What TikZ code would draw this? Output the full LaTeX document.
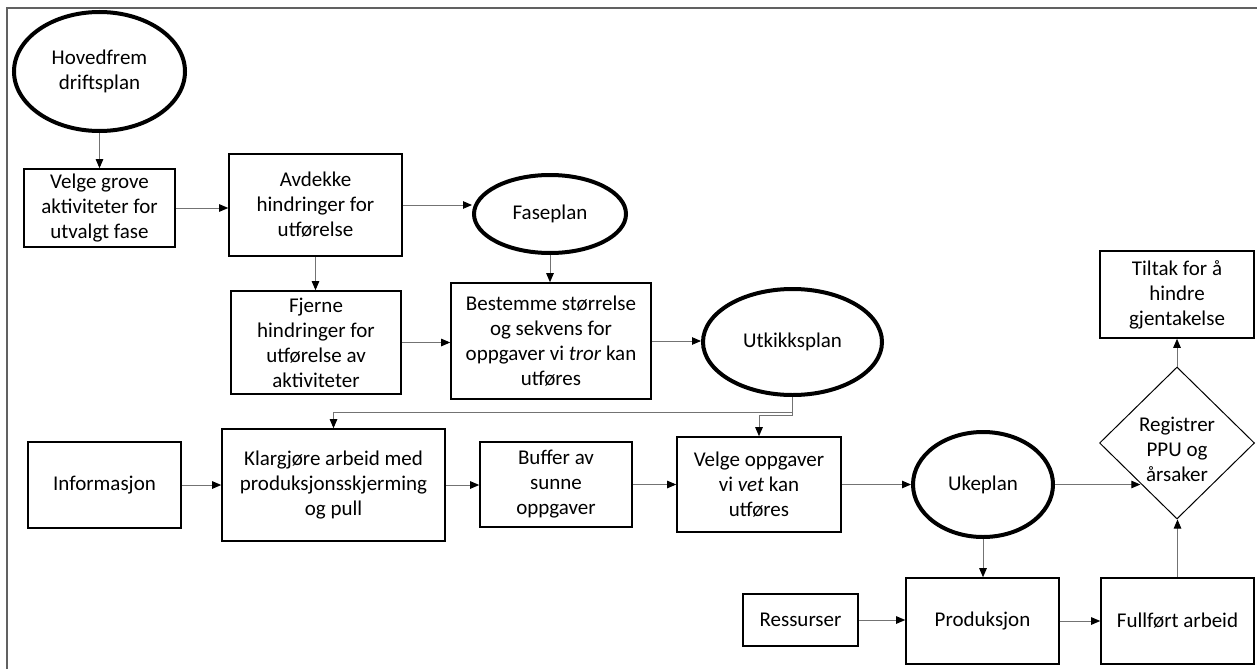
\documentclass[tikz,border=0pt]{standalone}
\usepackage{fontspec}
\setmainfont{Carlito}
\usetikzlibrary{shapes.geometric,arrows.meta,calc}
\begin{document}
\begin{tikzpicture}[x=1pt,y=-1pt,
  every node/.style={font=\fontsize{21}{25}\selectfont, align=center, inner sep=0pt},
  box/.style={draw, line width=1.6pt, rectangle},
  oval/.style={draw, line width=4pt, ellipse},
  dia/.style={draw, line width=1pt, diamond},
  arr/.style={draw=black!55, line width=0.9pt, -{Triangle[length=9pt,width=7.5pt,color=black]}},
  frame/.style={draw=black!62, line width=1.6pt}]
\useasboundingbox (0,0) rectangle (1257,669);

% page frame
\draw[frame] (7,669) -- (7,8) -- (1257,8);

% plan levels (ellipses)
\node[oval, minimum width=171, minimum height=119] (hov) at (99.5,71.5) {Hovedfrem\\driftsplan};
\node[oval, minimum width=152, minimum height=78] (fase) at (550,214) {Faseplan};
\node[oval, minimum width=179, minimum height=106] (utk) at (792.5,342) {Utkikksplan};
\node[oval, minimum width=140, minimum height=105] (uke) at (983,484.5) {Ukeplan};

% process steps
\node[box, minimum width=151, minimum height=78] (vg) at (99.5,208) {Velge grove\\aktiviteter for\\utvalgt fase};
\node[box, minimum width=173, minimum height=102] (avd) at (315.5,205) {Avdekke\\hindringer for\\utførelse};
\node[box, minimum width=170, minimum height=103] (fje) at (316,342.5) {Fjerne\\hindringer for\\utførelse av\\aktiviteter};
\node[box, minimum width=200, minimum height=116] (bes) at (551,341) {Bestemme størrelse\\og sekvens for\\oppgaver vi \textit{tror} kan\\utføres};
\node[box, minimum width=154, minimum height=87] (til) at (1177,294.5) {Tiltak for å\\hindre\\gjentakelse};
\node[box, minimum width=153, minimum height=86] (inf) at (104.5,485) {Informasjon};
\node[box, minimum width=223, minimum height=112] (kla) at (333.5,485) {Klargjøre arbeid med\\produksjonsskjerming\\og pull};
\node[box, minimum width=152, minimum height=85] (buf) at (556,484.5) {Buffer av\\sunne\\oppgaver};
\node[box, minimum width=164, minimum height=95] (vo) at (759,484.5) {Velge oppgaver\\vi \textit{vet} kan\\utføres};
\node[box, minimum width=115, minimum height=52] (res) at (800.5,620) {Ressurser};
\node[box, minimum width=153, minimum height=86] (pro) at (982.5,621) {Produksjon};
\node[box, minimum width=153, minimum height=86] (ful) at (1177.5,621) {Fullført arbeid};

% decision
\node[dia, minimum width=155, minimum height=152] (reg) at (1177,443) {};
\node (regtxt) at (1177,449) {Registrer\\PPU og\\årsaker};
\coordinate (regsw) at ($(reg.west)!0.53!(reg.south)$);

% connectors
\draw[arr] (hov.south) -- (vg.north);
\draw[arr] (vg.east) -- (vg.east -| avd.west);
\draw[arr] (avd.east) -- (avd.east -| fase.west);
\draw[arr] (avd.south) -- (avd.south |- fje.north);
\draw[arr] (fase.south) -- (fase.south |- bes.north);
\draw[arr] (fje.east) -- (fje.east -| bes.west);
\draw[arr] (bes.east) -- (bes.east -| utk.west);
\draw[arr] (utk.south) -- ++(0,15) -| (kla.north);
\draw[arr] (utk.south) -- ++(0,18) -| (vo.north);
\draw[arr] (inf.east) -- (inf.east -| kla.west);
\draw[arr] (kla.east) -- (kla.east -| buf.west);
\draw[arr] (buf.east) -- (buf.east -| vo.west);
\draw[arr] (vo.east) -- (vo.east -| uke.west);
\draw[arr] (uke.east) -- (uke.east -| regsw);
\draw[arr] (uke.south) -- (uke.south |- pro.north);
\draw[arr] (res.east) -- (res.east -| pro.west);
\draw[arr] (pro.east) -- (pro.east -| ful.west);
\draw[arr] (ful.north) -- (ful.north |- reg.south);
\draw[arr] (reg.north) -- (reg.north |- til.south);
\end{tikzpicture}
\end{document}
